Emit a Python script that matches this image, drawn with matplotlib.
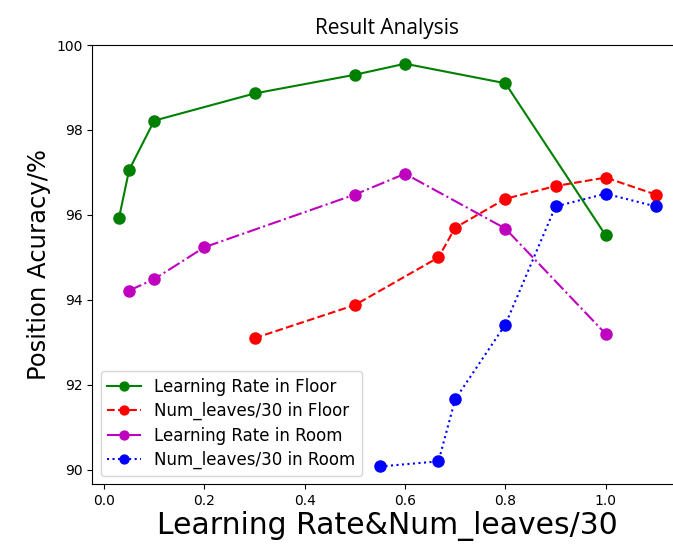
import matplotlib
matplotlib.use("Agg")
import matplotlib.pyplot as plt

# Learning rate sweeps
lr_floor_x = [0.03, 0.05, 0.1, 0.3, 0.5, 0.6, 0.8, 1.0]
lr_floor_y = [95.94, 97.06, 98.22, 98.86, 99.30, 99.56, 99.10, 95.52]

lr_room_x = [0.05, 0.1, 0.2, 0.5, 0.6, 0.8, 1.0]
lr_room_y = [94.22, 94.49, 95.24, 96.48, 96.97, 95.68, 93.20]

# num_leaves / 30 sweeps
nl_floor_x = [0.3, 0.5, 20 / 30, 0.7, 0.8, 0.9, 1.0, 1.1]
nl_floor_y = [93.10, 93.88, 95.00, 95.70, 96.38, 96.68, 96.88, 96.48]

nl_room_x = [0.55, 20 / 30, 0.7, 0.8, 0.9, 1.0, 1.1]
nl_room_y = [90.08, 90.20, 91.66, 93.42, 96.20, 96.50, 96.20]

fig = plt.figure(figsize=(6.73, 5.47), dpi=100)
ax = fig.add_axes([0.1371, 0.1146, 0.8773, 0.8031])

ms = 8
ax.plot(lr_floor_x, lr_floor_y, 'g-o', ms=ms, label='Learning Rate in Floor')
ax.plot(nl_floor_x, nl_floor_y, 'r--o', ms=ms, label='Num_leaves/30 in Floor')
ax.plot(lr_room_x, lr_room_y, 'm-.o', ms=ms, label='Learning Rate in Room')
ax.plot(nl_room_x, nl_room_y, 'b:o', ms=ms, label='Num_leaves/30 in Room')

ax.set_xlim(-0.0235, 1.1535)
ax.set_ylim(89.66, 100)
ax.spines['right'].set_visible(False)
ax.set_title('Result Analysis', fontsize=15, family='Open Sans', pad=8)
ax.set_xlabel('Learning Rate&Num_leaves/30', fontsize=21.5, labelpad=2)
ax.set_ylabel('Position Acuracy/%', fontsize=17.5)
ax.legend(loc='lower left', fontsize=12, labelspacing=0.38, markerscale=0.8)

fig.savefig('out.png', dpi=100)
